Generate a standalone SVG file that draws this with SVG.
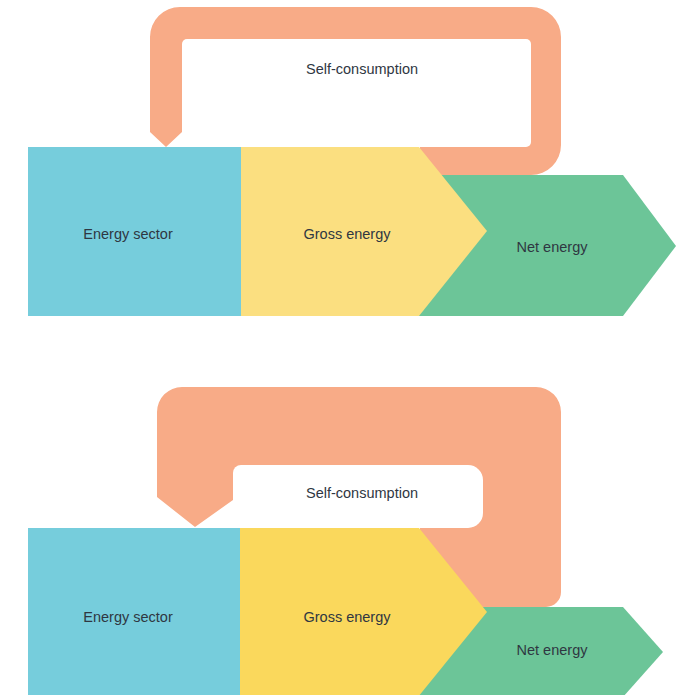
<svg xmlns="http://www.w3.org/2000/svg" width="682" height="695" viewBox="0 0 682 695">
<style>
.lbl{font-family:"Liberation Sans",Arial,sans-serif;font-size:14.5px;fill:#2f3742;text-anchor:middle}
.blue{fill:#76CDDC}.yel1{fill:#FBDF80}.yel2{fill:#FAD85C}.green{fill:#6CC598}.orange{fill:#F8AB87}.hole{fill:#ffffff}
</style>
<rect width="682" height="695" fill="#ffffff"/>
<g id="connectors">
  <path class="orange" d="M150,132 V37 A30,30 0 0 1 180,7 H531 A30,30 0 0 1 561,37 V145 A30,30 0 0 1 531,175 H420 V140 H182 V132 L166,147 Z"/>
  <path class="hole" d="M182,147 V44 A5,5 0 0 1 187,39 H526 A5,5 0 0 1 531,44 V142 A5,5 0 0 1 526,147 Z"/>
  <path class="orange" d="M157,497 V412 A25,25 0 0 1 182,387 H536 A25,25 0 0 1 561,412 V592 A15,15 0 0 1 546,607 H420 V528 H233 V500 L195,527 Z"/>
  <path class="hole" d="M233,528 V473 A8,8 0 0 1 241,465 H468 A15,15 0 0 1 483,480 V513 A15,15 0 0 1 468,528 Z"/>
</g>
<g id="top-selfconsumption"><text class="lbl" x="362" y="74">Self-consumption</text></g>
<g id="top-net"><polygon class="green" points="420,175 623,175 676,246 623,316 418,316"/><text class="lbl" x="552" y="252">Net energy</text></g>
<g id="top-gross"><polygon class="yel1" points="241,147 419,147 487,231 419,316 241,316"/><text class="lbl" x="347" y="239">Gross energy</text></g>
<g id="top-sector"><rect class="blue" x="28" y="147" width="213" height="169"/><text class="lbl" x="128" y="239">Energy sector</text></g>
<g id="bottom-selfconsumption"><text class="lbl" x="362" y="498">Self-consumption</text></g>
<g id="bottom-net"><polygon class="green" points="420,607 623,607 663,652 623,697 418,697"/><text class="lbl" x="552" y="655">Net energy</text></g>
<g id="bottom-gross"><polygon class="yel2" points="240,528 419,528 487,612 418,697 240,697"/><text class="lbl" x="347" y="622">Gross energy</text></g>
<g id="bottom-sector"><rect class="blue" x="28" y="528" width="212" height="169"/><text class="lbl" x="128" y="622">Energy sector</text></g>
</svg>
